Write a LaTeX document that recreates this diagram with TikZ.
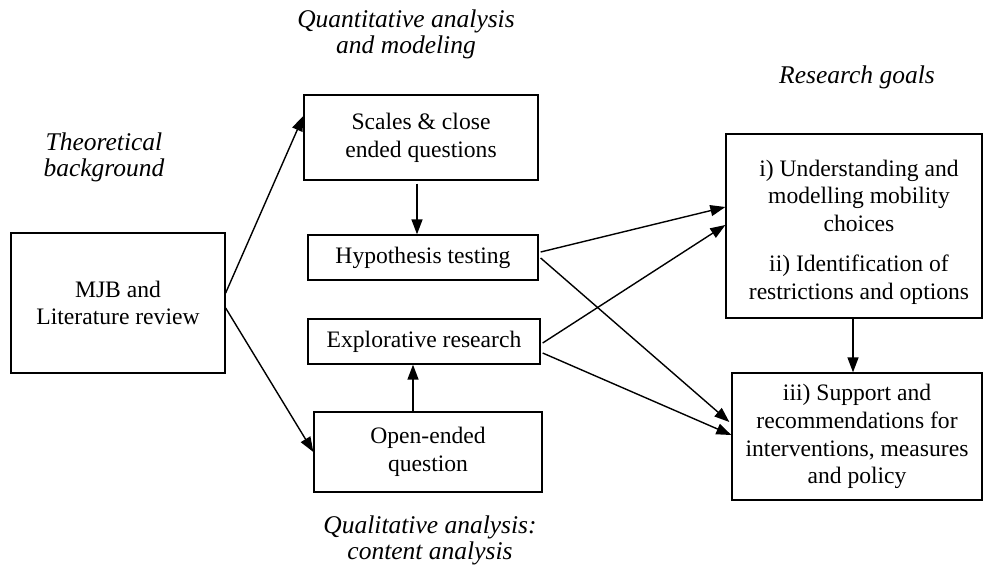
\documentclass[tikz,border=0pt]{standalone}
\usepackage{fontspec}
\setmainfont{Liberation Serif}
\usetikzlibrary{arrows.meta}
\begin{document}
\begin{tikzpicture}[x=1pt,y=-1pt,
  box/.style={draw, line width=1.3pt, inner sep=0pt, align=center, font=\fontsize{23.6}{27.7}\selectfont},
  txt/.style={align=center, inner sep=0pt, font=\fontsize{23.6}{27.7}\selectfont},
  lab/.style={align=center, inner sep=0pt, font=\fontsize{25.5}{26}\selectfont\itshape},
  arr/.style={line width=1.4pt, -{Triangle[length=15pt,width=11pt]}}]
\useasboundingbox (0,0) rectangle (984,571);
% boxes
\node[box, minimum width=214pt, minimum height=140pt] (mjb) at (118,303) {MJB and\\Literature review};
\node[box, minimum width=234pt, minimum height=85pt] (scales) at (421,137.5) {Scales \& close\\ended questions};
\node[box, minimum width=230pt, minimum height=45pt] (hyp) at (423,257.5) {Hypothesis testing};
\node[box, minimum width=232pt, minimum height=45pt] (expl) at (424,341.5) {Explorative research};
\node[box, minimum width=228pt, minimum height=80pt] (open) at (428,452) {Open-ended\\question};
\node[box, minimum width=256pt, minimum height=184pt] (g1) at (854,226) {};
\node[txt] (g1t) at (859,232) {i) Understanding and\\modelling mobility\\choices\\[12pt]ii) Identification of\\restrictions and options};
\node[box, minimum width=250pt, minimum height=127pt] (g2) at (857,436.5) {iii) Support and\\recommendations for\\interventions, measures\\and policy};
% labels
\node[lab] (quant) at (406,34) {Quantitative analysis\\and modeling};
\node[lab] (goals) at (857,77) {Research goals};
\node[lab] (theo) at (104,157) {Theoretical\\background};
\node[lab] (qual) at (430,540) {Qualitative analysis:\\content analysis};
% connectors
\draw[arr] ([yshift=10pt]mjb.east) -- ([yshift=21.5pt]scales.west);
\draw[arr] ([yshift=-5pt]mjb.east) -- (open.west);
\draw[arr] ([xshift=-4pt,yshift=-3pt]scales.south) -- ([xshift=-6pt]hyp.north);
\draw[arr] ([xshift=-15pt]open.north) -- ([xshift=-11pt]expl.south);
\draw[arr] ([xshift=-1pt]g1.south) -- ([xshift=-4pt]g2.north);
\draw[arr] ([xshift=2pt,yshift=5.5pt]hyp.east) -- ([yshift=19pt]g1.west);
\draw[arr] ([xshift=2pt,yshift=-0.5pt]hyp.east) -- ([xshift=-2pt,yshift=14.5pt]g2.west);
\draw[arr] ([xshift=2pt,yshift=-1.5pt]expl.east) -- ([yshift=1pt]g1.west);
\draw[arr] ([xshift=2pt,yshift=-11.5pt]expl.east) -- ([yshift=1.5pt]g2.west);
\end{tikzpicture}
\end{document}
